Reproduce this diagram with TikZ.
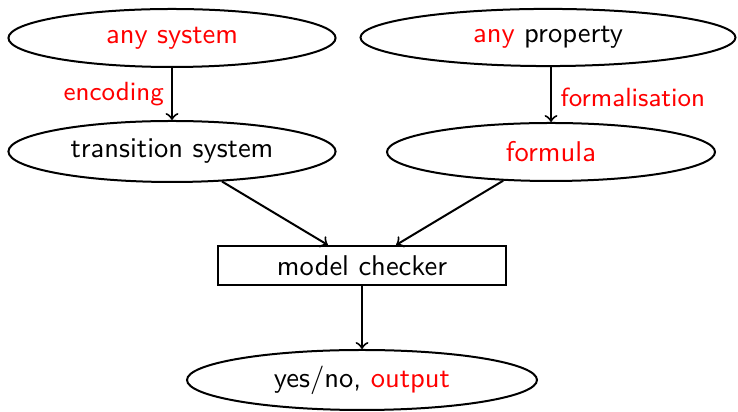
\documentclass[tikz,border=0pt]{standalone}
\usetikzlibrary{shapes.geometric}
\begin{document}
\begin{tikzpicture}[x=0.35pt,y=-0.35pt,
  every node/.style={font=\sffamily},
  ell/.style={draw,ellipse,line width=0.7pt,inner sep=0pt},
  box/.style={draw,rectangle,line width=0.7pt,inner sep=0pt},
  conn/.style={->,line width=0.7pt},
  lbl/.style={font=\sffamily\fontsize{9.2}{11}\selectfont,text=red,inner sep=0pt}]
\useasboundingbox (0,0) rectangle (738,412);
\node[ell,minimum width=114.5pt,minimum height=20.3pt] (sys) at (172,38) {\textcolor{red}{any system}};
\node[ell,minimum width=131.25pt,minimum height=20pt] (prop) at (548,37.5) {\textcolor{red}{any} property};
\node[ell,minimum width=114.5pt,minimum height=21.35pt] (ts) at (172,151.5) {transition system};
\node[ell,minimum width=114.8pt,minimum height=20.3pt] (form) at (551,152) {\textcolor{red}{formula}};
\node[box,minimum width=100.8pt,minimum height=13.65pt] (mc) at (362,265.5) {model checker};
\node[ell,minimum width=122.5pt,minimum height=21pt] (out) at (362,380) {yes/no, \textcolor{red}{output}};
\draw[conn] (sys) -- (ts) node[midway,left=2.5pt,lbl] {encoding};
\draw[conn] (prop.south -| form) -- (form) node[midway,right=3pt,yshift=-1pt,lbl] {formalisation};
\draw[conn] (ts) -- (mc);
\draw[conn] (form) -- (mc);
\draw[conn] (mc) -- (out);
\end{tikzpicture}
\end{document}
